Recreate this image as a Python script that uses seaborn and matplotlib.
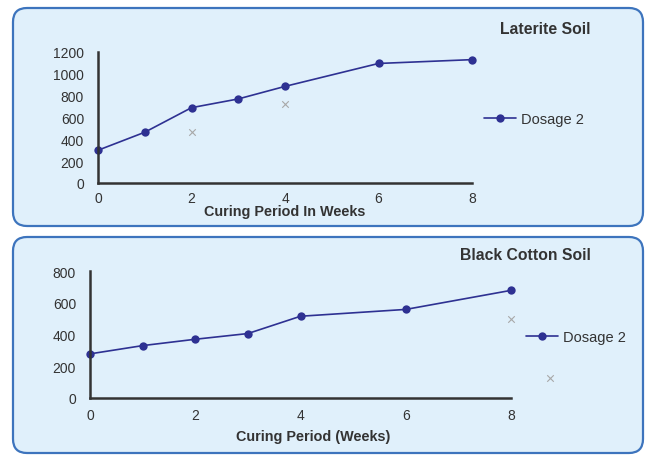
import matplotlib
matplotlib.use("Agg")
import matplotlib.pyplot as plt
from matplotlib.patches import FancyBboxPatch
import seaborn as sns
import pandas as pd

# ---- data ----
weeks_lat = [0, 1, 2, 3, 4, 6, 8]
dosage2_lat = [300, 465, 690, 770, 885, 1095, 1130]
stray_lat_x = [2, 4]
stray_lat_y = [465, 725]

weeks_bc = [0, 1, 2, 3, 4, 6, 8]
dosage2_bc = [278, 330, 370, 406, 515, 558, 678]
stray_bc_x = [8, 8.74]
stray_bc_y = [496, 126]

lat_yticks = [0, 200, 400, 600, 800, 1000, 1200]
lat_xticks = [0, 2, 4, 6, 8]
bc_yticks = [0, 200, 400, 600, 800]
bc_xticks = [0, 2, 4, 6, 8]

sns.set_theme(style="white")
plt.rcParams['font.family'] = ['Liberation Sans', 'DejaVu Sans']

W, H = 652, 456
fig = plt.figure(figsize=(W / 100, H / 100), dpi=100)

NAVY = "#2e3192"
TXT = "#333333"
BOXFC = "#e0f0fb"
BOXEC = "#3d74bd"

# panel boxes in pixel coords (origin bottom-left)
for (x0, y0, x1, y1) in [(13, 456 - 227, 643, 456 - 9), (13, 2, 643, 456 - 238)]:
    p = FancyBboxPatch((x0, y0), x1 - x0, y1 - y0,
                       boxstyle="round,pad=0,rounding_size=14",
                       transform=None, facecolor=BOXFC, edgecolor=BOXEC,
                       linewidth=1.6, zorder=-5)
    fig.patches.append(p)


def px_axes(left, right, top, bottom):
    return fig.add_axes([left / W, 1 - bottom / H, (right - left) / W, (bottom - top) / H])


def style(ax, xt, yt, xmax, ymax):
    ax.set_facecolor("none")
    ax.set_xlim(0, xmax)
    ax.set_ylim(0, ymax)
    ax.set_xticks(xt)
    ax.set_yticks(yt)
    ax.tick_params(axis="both", length=0, labelsize=10, colors=TXT)
    ax.tick_params(axis="y", pad=10)
    ax.tick_params(axis="x", pad=6)
    for s in ["top", "right"]:
        ax.spines[s].set_visible(False)
    for s in ["left", "bottom"]:
        ax.spines[s].set_color("#333333")
        ax.spines[s].set_linewidth(1.8)
    ax.set_ylabel("")


# ---- top panel ----
ax1 = px_axes(98, 472, 53, 184)
df1 = pd.DataFrame({"week": weeks_lat, "val": dosage2_lat})
sns.lineplot(data=df1, x="week", y="val", ax=ax1, color=NAVY, marker="o",
             markersize=6, markeredgewidth=0, linewidth=1.2, label="Dosage 2",
             clip_on=False)
ax1.scatter(stray_lat_x, stray_lat_y, marker="x", color="#a8a8a8", s=22,
            linewidths=0.8, clip_on=False)
style(ax1, lat_xticks, lat_yticks, 8, 1200)
ax1.set_xlabel("Curing Period In Weeks", fontsize=10.4, fontweight="bold",
               color=TXT)
ax1.xaxis.set_label_coords(0.5, -(212 - 184) / (184 - 53))
ax1.xaxis.label.set_verticalalignment("center")
ax1.legend(loc="center left", bbox_to_anchor=(471 / W, 1 - 120 / H),
           bbox_transform=fig.transFigure, frameon=False, fontsize=10.5,
           handlelength=2.2, handletextpad=0.3, labelcolor=TXT)
fig.text(591 / W, 1 - 29 / H, "Laterite Soil", ha="right", va="center",
         fontsize=11.3, fontweight="bold", color=TXT)

# ---- bottom panel ----
ax2 = px_axes(90, 511, 272, 399)
df2 = pd.DataFrame({"week": weeks_bc, "val": dosage2_bc})
sns.lineplot(data=df2, x="week", y="val", ax=ax2, color=NAVY, marker="o",
             markersize=6, markeredgewidth=0, linewidth=1.2, label="Dosage 2",
             clip_on=False)
ax2.scatter(stray_bc_x, stray_bc_y, marker="x", color="#a8a8a8", s=22,
            linewidths=0.8, clip_on=False)
style(ax2, bc_xticks, bc_yticks, 8, 800)
ax2.tick_params(axis="x", pad=7)
ax2.set_xlabel("Curing Period (Weeks)", fontsize=10.4, fontweight="bold",
               color=TXT)
ax2.xaxis.set_label_coords((313 - 90) / (511 - 90), -(437 - 399) / (399 - 272))
ax2.xaxis.label.set_verticalalignment("center")
ax2.legend(loc="center left", bbox_to_anchor=(513 / W, 1 - 338 / H),
           bbox_transform=fig.transFigure, frameon=False, fontsize=10.5,
           handlelength=2.2, handletextpad=0.3, labelcolor=TXT)
fig.text(591 / W, 1 - 256 / H, "Black Cotton Soil", ha="right", va="center",
         fontsize=11.3, fontweight="bold", color=TXT)

fig.savefig("out.png", dpi=100, facecolor="white")
